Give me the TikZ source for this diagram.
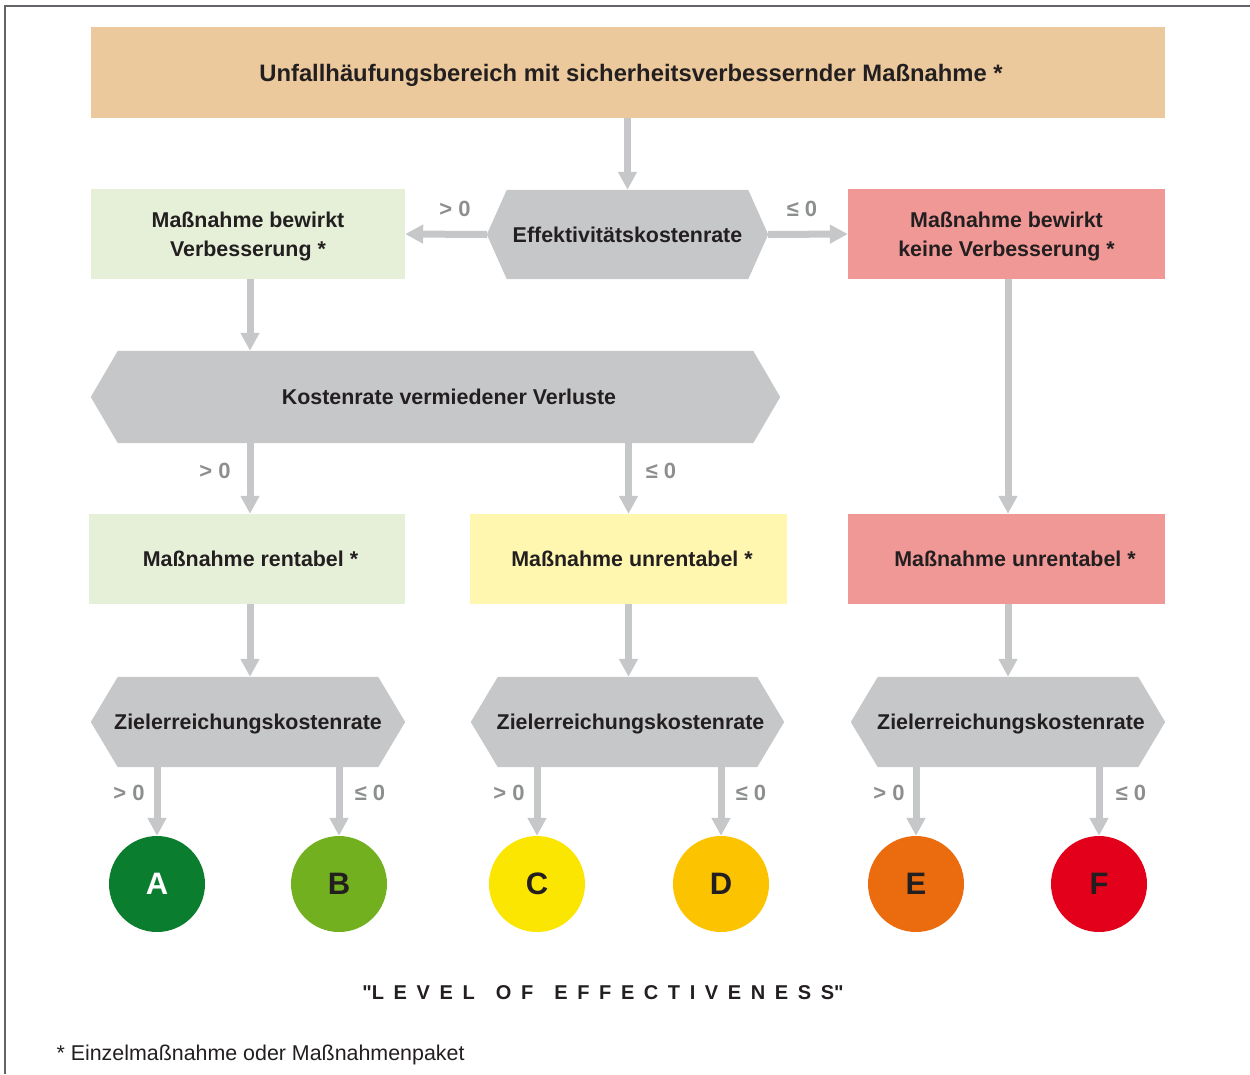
\documentclass[tikz,border=0pt]{standalone}
\usepackage{fontspec}
\setmainfont{Liberation Sans}
\usetikzlibrary{arrows.meta,calc,backgrounds}
\definecolor{topfill}{RGB}{235,201,156}
\definecolor{hexgray}{RGB}{198,199,201}
\definecolor{lgreen}{RGB}{230,240,216}
\definecolor{lred}{RGB}{240,152,150}
\definecolor{lyellow}{RGB}{255,246,176}
\definecolor{labgray}{RGB}{140,142,144}
\definecolor{txt}{RGB}{35,31,32}
\definecolor{frame}{RGB}{100,100,104}
\definecolor{cA}{RGB}{11,125,47}
\definecolor{cB}{RGB}{114,176,31}
\definecolor{cC}{RGB}{250,230,0}
\definecolor{cD}{RGB}{251,195,0}
\definecolor{cE}{RGB}{234,108,14}
\definecolor{cF}{RGB}{226,0,26}
\tikzset{
  boxtext/.style={text=txt,font=\bfseries\fontsize{21.4}{29}\selectfont,align=center,text depth=0pt},
  rbox/.style={boxtext,rectangle,inner sep=0pt},
  hexnode/.style={boxtext,rectangle,inner sep=0pt},
  arr/.style={draw=hexgray,line width=7pt,-{Triangle[width=18pt,length=18pt]}},
  cond/.style={text=labgray,font=\bfseries\fontsize{22}{26}\selectfont},
  grade/.style={circle,minimum size=96pt,inner sep=0pt,font=\bfseries\fontsize{31}{34}\selectfont,text=txt}
}
\newcommand{\hexfill}[2]{%
  \fill[hexgray] (#1.west) -- ($(#1.north west)+(#2,0)$) -- ($(#1.north east)-(#2,0)$) -- (#1.east)
    -- ($(#1.south east)-(#2,0)$) -- ($(#1.south west)+(#2,0)$) -- cycle;}
\newcommand{\sh}[1]{\hspace*{#1pt}}
\begin{document}
\begin{tikzpicture}[x=1pt,y=-1pt]
\useasboundingbox (0,0) rectangle (1250,1074);
\draw[frame,line width=2pt] (5,1074) -- (5,6) -- (1250,6);

% boxes
\node[rbox,fill=topfill,minimum width=1074pt,minimum height=91pt,font=\bfseries\fontsize{23.8}{29}\selectfont] (top) at (628,72.5)
  {\sh{6}Unfallhäufungsbereich mit sicherheitsverbessernder Maßnahme *};
\node[hexnode,minimum width=281pt,minimum height=89pt] (eff) at (627.5,234.5) {Effektivitätskostenrate};
\node[rbox,fill=lgreen,minimum width=314pt,minimum height=90pt] (v1) at (248,234)
  {Maßnahme bewirkt\\Verbesserung *};
\node[rbox,fill=lred,minimum width=317pt,minimum height=90pt] (v2) at (1006.5,234)
  {Maßnahme bewirkt\\keine Verbesserung *};
\node[hexnode,minimum width=689pt,minimum height=92pt] (kost) at (435.5,397) {};
\node[boxtext] (kosttext) at (449,397) {Kostenrate vermiedener Verluste};
\node[rbox,fill=lgreen,minimum width=316pt,minimum height=90pt] (b1) at (247,559) {\sh{7}Maßnahme rentabel *};
\node[rbox,fill=lyellow,minimum width=317pt,minimum height=90pt] (b2) at (628.5,559) {\sh{7}Maßnahme unrentabel *};
\node[rbox,fill=lred,minimum width=317pt,minimum height=90pt] (b3) at (1006.5,559) {\sh{17}Maßnahme unrentabel *};
\node[hexnode,minimum width=314pt,minimum height=90pt] (z1) at (248,722) {Zielerreichungskostenrate};
\node[hexnode,minimum width=313pt,minimum height=90pt] (z2) at (627.5,722) {\sh{6}Zielerreichungskostenrate};
\node[hexnode,minimum width=314pt,minimum height=90pt] (z3) at (1008,722) {\sh{6}Zielerreichungskostenrate};

\begin{scope}[on background layer]
  \hexfill{eff}{20}
  \hexfill{kost}{27}
  \hexfill{z1}{27}
  \hexfill{z2}{27}
  \hexfill{z3}{27}
\end{scope}

% grades
\node[grade,fill=cA,text=white] (A) at (157,884) {A};
\node[grade,fill=cB] (B) at (339,884) {B};
\node[grade,fill=cC] (C) at (537,884) {C};
\node[grade,fill=cD] (D) at (721,884) {D};
\node[grade,fill=cE] (E) at (916,884) {E};
\node[grade,fill=cF] (F) at (1099,884) {F};

% connectors
\draw[arr] (top.south -| eff.north) -- (eff.north);
\draw[arr] (eff.west) -- (v1.east);
\draw[arr] (eff.east) -- (v2.west);
\node[cond] (l1) at (455,209) {> 0};
\node[cond] (l2) at (802,209) {≤ 0};
\draw[arr] ($(v1.south)+(2,0)$) -- ($(v1.south |- kost.north)+(2,0)$);
\draw[arr] ($(v2.south)+(1.5,0)$) -- ($(b3.north)+(1.5,0)$);
\draw[arr] ($(b1.north |- kost.south)+(3,0)$) -- ($(b1.north)+(3,0)$);
\draw[arr] (b2.north |- kost.south) -- (b2.north);
\node[cond] (l3) at (215,471) {> 0};
\node[cond] (l4) at (661,471) {≤ 0};
\draw[arr] ($(b1.south)+(3,0)$) -- ($(b1.south |- z1.north)+(3,0)$);
\draw[arr] (b2.south) -- (b2.south |- z2.north);
\draw[arr] ($(b3.south)+(1.5,0)$) -- ($(b3.south |- z3.north)+(1.5,0)$);

\draw[arr] (A.north |- z1.south) -- (A.north);
\draw[arr] (B.north |- z1.south) -- (B.north);
\draw[arr] (C.north |- z2.south) -- (C.north);
\draw[arr] (D.north |- z2.south) -- (D.north);
\draw[arr] (E.north |- z3.south) -- (E.north);
\draw[arr] (F.north |- z3.south) -- (F.north);
\node[cond] (g1) at (129,793) {> 0};
\node[cond] (g2) at (370,793) {≤ 0};
\node[cond] (g3) at (509,793) {> 0};
\node[cond] (g4) at (751,793) {≤ 0};
\node[cond] (g5) at (889,793) {> 0};
\node[cond] (g6) at (1131,793) {≤ 0};

% bottom texts
\node[text=txt,font=\bfseries\fontsize{20}{24}\selectfont\addfontfeatures{LetterSpace=48}] (lev) at (603,993)
  {\textquotedbl LEVEL\ \hspace{6pt}OF\ \hspace{6pt}EFFECTIVENESS\textquotedbl};
\node[text=txt,font=\fontsize{21.4}{25}\selectfont,anchor=west] (foot) at (53,1055)
  {* Einzelmaßnahme oder Maßnahmenpaket};
\end{tikzpicture}
\end{document}
